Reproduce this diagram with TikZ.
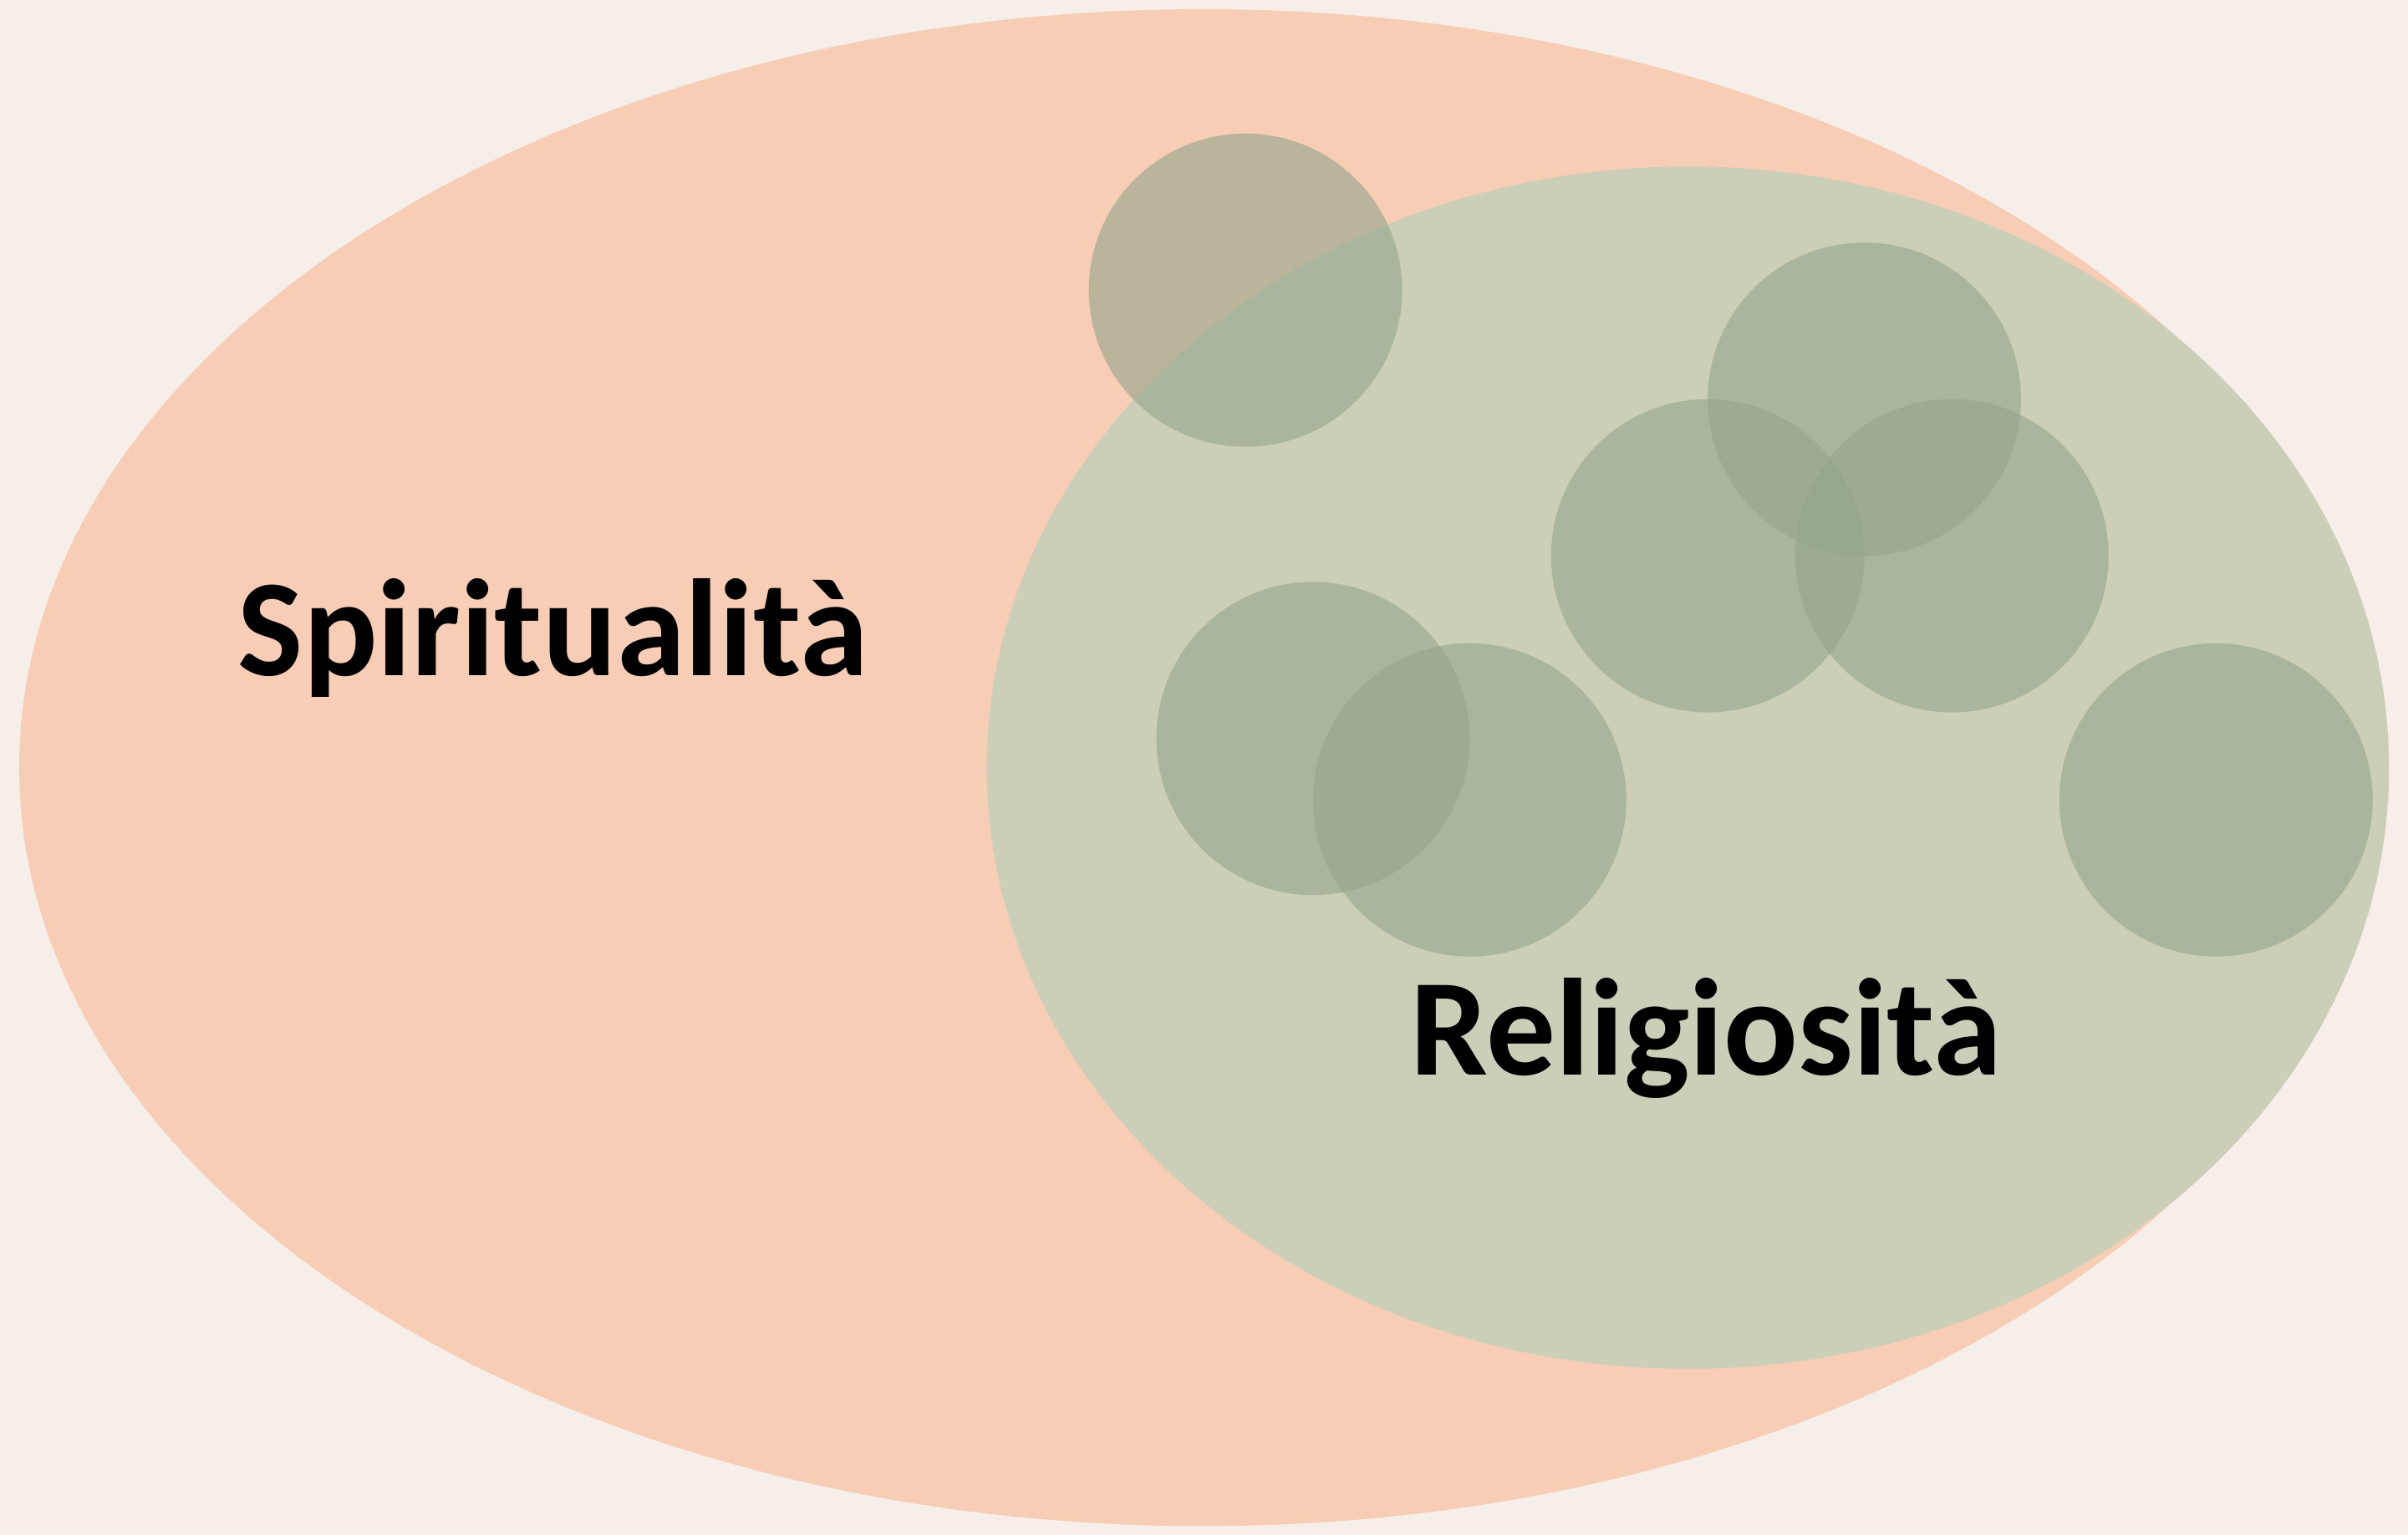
\documentclass[tikz,border=0pt]{standalone}
\usepackage{fontspec}
\setmainfont{Carlito}
\definecolor{bgc}{RGB}{246,238,232}
\definecolor{spir}{RGB}{247,205,182}
\definecolor{reli}{RGB}{203,207,183}
\definecolor{circ}{RGB}{148,165,139}
\tikzset{
  dot/.style={fill=circ,fill opacity=0.61,draw=none},
  lbl/.style={font=\fontsize{90}{100}\selectfont\bfseries,anchor=base,text=black}
}
\begin{document}
\begin{tikzpicture}[x=1pt,y=-1pt]
\fill[bgc] (0,0) rectangle (1568,999.8);
\useasboundingbox (0,0) rectangle (1568,999.8);
\fill[spir] (783,500) ellipse [x radius=770.5, y radius=494];
\fill[reli] (1099.1,500) ellipse [x radius=456.5, y radius=391.5];
\foreach \n/\x/\y in {c1/811/189, c2/1214/260, c3/1112/362, c4/1271/362, c5/855/481, c6/957/521, c7/1443/521}{
  \fill[dot] (\x,\y) circle [radius=102];
}
\node[lbl] (spi) at (360,440) {Spiritualità};
\node[lbl] (rel) at (1111,700) {Religiosità};
\end{tikzpicture}
\end{document}
